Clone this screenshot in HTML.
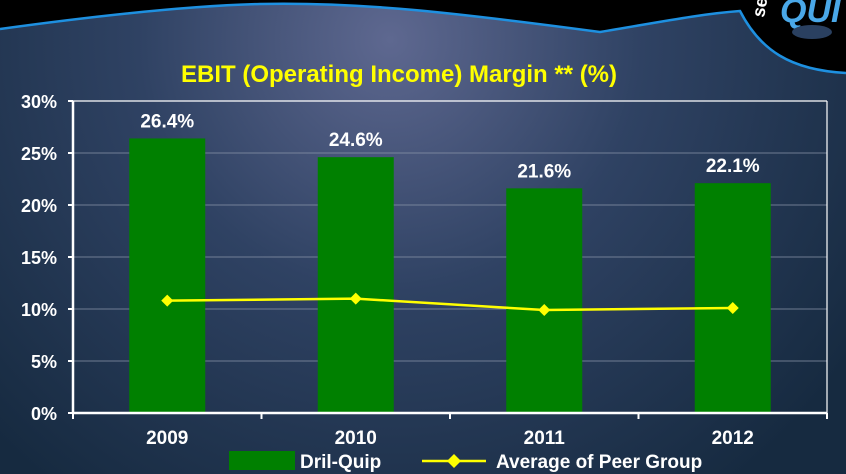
<!DOCTYPE html>
<html><head><meta charset="utf-8"><style>
html,body{margin:0;padding:0}
body{width:846px;height:474px;overflow:hidden;background:#000;font-family:"Liberation Sans",Arial,sans-serif}
svg{display:block}
</style></head><body>
<svg width="846" height="474" viewBox="0 0 846 474">
<defs>
<radialGradient id="bg" cx="390" cy="40" r="560" gradientUnits="userSpaceOnUse">
<stop offset="0" stop-color="#5e6890"/>
<stop offset="0.45" stop-color="#2f4263"/>
<stop offset="1" stop-color="#162a40"/>
</radialGradient>
</defs>
<rect width="846" height="474" fill="#000"/>
<path d="M0,29 C80,18 180,6 260,4 C360,2 450,12 600,32 C660,22 700,14 740,11 C760,50 790,70 846,73 L846,474 L0,474 Z" fill="url(#bg)"/>
<path d="M0,29 C80,18 180,6 260,4 C360,2 450,12 600,32 C660,22 700,14 740,11 C760,50 790,70 846,73" fill="none" stroke="#1e90e0" stroke-width="2.5"/>
<g>
<text x="764" y="18" fill="#fff" font-size="18" font-weight="bold" transform="rotate(-80 764 18)">se</text>
<text x="780" y="22" fill="#4aa8e8" font-size="34" font-weight="bold" font-style="italic">QUI</text>
<ellipse cx="812" cy="32" rx="20" ry="7" fill="#2a4060"/>
</g>
<text x="399" y="82" text-anchor="middle" fill="#ffff00" font-size="24" font-weight="bold">EBIT (Operating Income) Margin ** (%)</text>
<g id="plot"></g>
</svg>
<script>
const categories=["2009","2010","2011","2012"];
const driQuip=[26.4,24.6,21.6,22.1];
const peerAvg=[10.8,11.0,9.9,10.1];
const yTicks=[0,5,10,15,20,25,30];
const barLabels=["26.4%","24.6%","21.6%","22.1%"];
const NS="http://www.w3.org/2000/svg";
const g=document.getElementById('plot');
const L=73,R=827,T=101,B=413;
const bw=(R-L)/categories.length;
const y=v=>B-(v/30)*(B-T);
const xc=i=>L+bw*(i+0.5);
function mk(t,a){const e=document.createElementNS(NS,t);for(const k in a)e.setAttribute(k,a[k]);g.appendChild(e);return e;}
yTicks.forEach(v=>{
 if(v>0){const gl=mk('line',{x1:L,x2:R,y1:y(v),y2:y(v),stroke:v===30?'#fff':'#8a94a8','stroke-width':v===30?1.2:0.8});
 
 }
 const tk=mk('line',{x1:L-5,x2:L,y1:y(v),y2:y(v),stroke:'#fff','stroke-width':2});
 
 
 const t=mk('text',{x:L-16,y:y(v)+7,'text-anchor':'end',fill:'#fff','font-size':18,'font-weight':'bold'});
 t.textContent=v+'%';
 
 
});
const rb=mk('line',{x1:R,x2:R,y1:T,y2:B,stroke:'#fff','stroke-width':1.2});


categories.forEach((c,i)=>{
 const w=76;
 const b=mk('rect',{x:xc(i)-w/2,y:y(driQuip[i]),width:w,height:B-y(driQuip[i]),fill:'#008000'});
 
 
 const t=mk('text',{x:xc(i),y:y(driQuip[i])-11,'text-anchor':'middle',fill:'#fff','font-size':19,'font-weight':'bold'});
 t.textContent=barLabels[i];
 
 
 const xl=mk('text',{x:xc(i),y:444,'text-anchor':'middle',fill:'#fff','font-size':19,'font-weight':'bold'});
 xl.textContent=c;
 
 
});
for(let i=0;i<=categories.length;i++){
 const tk=mk('line',{x1:L+bw*i,x2:L+bw*i,y1:B,y2:B+6,stroke:'#fff','stroke-width':2});
 
 
}
const ax=mk('line',{x1:L,x2:R,y1:B,y2:B,stroke:'#fff','stroke-width':2.5});


const ay=mk('line',{x1:L,x2:L,y1:T,y2:B,stroke:'#fff','stroke-width':2.5});


const pl=mk('polyline',{points:peerAvg.map((v,i)=>xc(i)+','+y(v)).join(' '),fill:'none',stroke:'#ffff00','stroke-width':2.5});


peerAvg.forEach((v,i)=>{
 const cx=xc(i),cy=y(v);
 const d=mk('polygon',{points:`${cx},${cy-6} ${cx+6},${cy} ${cx},${cy+6} ${cx-6},${cy}`,fill:'#ffff00'});
 
 
});
const lr=mk('rect',{x:229,y:451,width:66,height:19,fill:'#008000'});


const lt=mk('text',{x:300,y:468,fill:'#fff','font-size':19,'font-weight':'bold'});
lt.textContent='Dril-Quip';


const ll=mk('line',{x1:422,x2:486,y1:461,y2:461,stroke:'#ffff00','stroke-width':2.5});


const ld=mk('polygon',{points:'454,454 461,461 454,468 447,461',fill:'#ffff00'});


const lt2=mk('text',{x:496,y:468,fill:'#fff','font-size':19,'font-weight':'bold'});
lt2.textContent='Average of Peer Group';


</script>
</body></html>
